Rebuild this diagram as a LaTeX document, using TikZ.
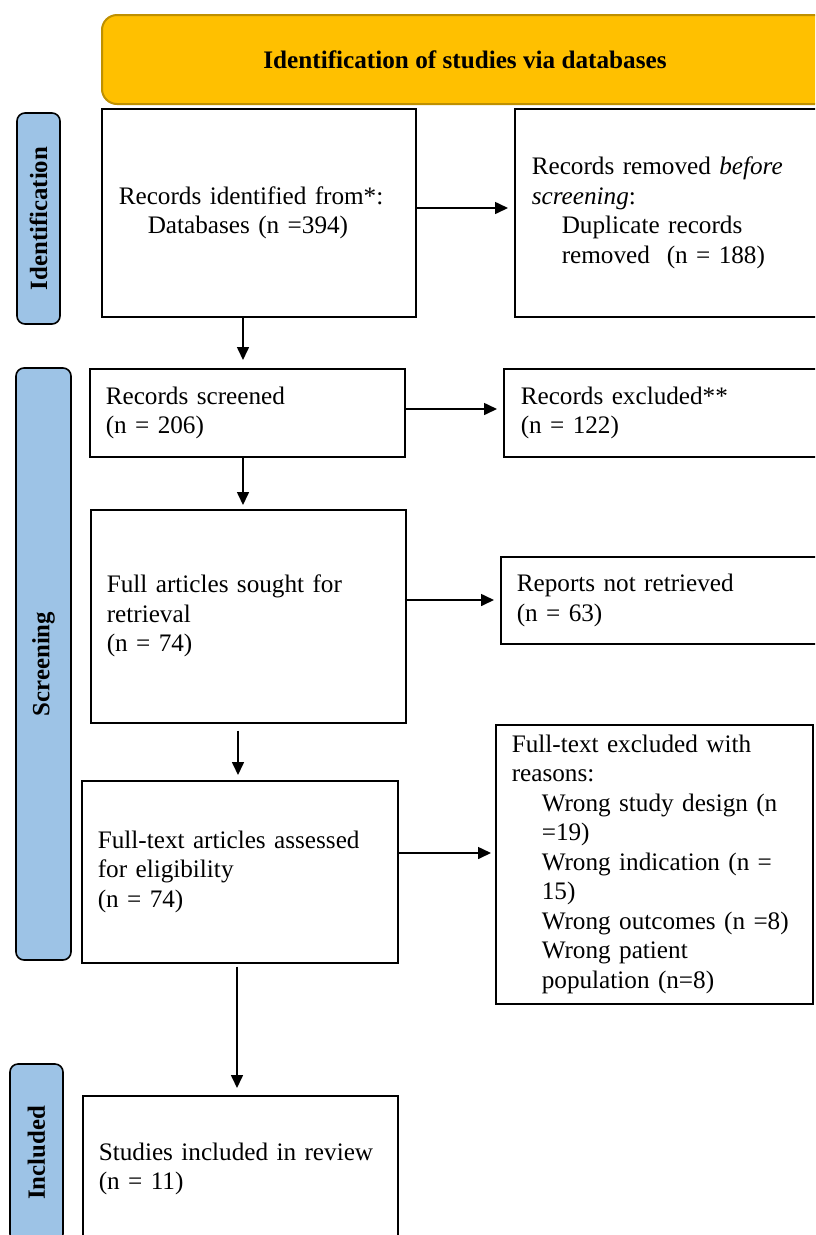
\documentclass[tikz,border=0pt]{standalone}
\usepackage{fontspec}
\setmainfont{Liberation Serif}
\usetikzlibrary{arrows.meta,calc}
\definecolor{banner}{HTML}{FFC000}
\definecolor{bannerline}{HTML}{BF9000}
\definecolor{side}{HTML}{9DC3E6}
\begin{document}
\begin{tikzpicture}[x=1pt,y=-1pt,
  every node/.style={font=\fontsize{25.2}{29.5}\selectfont},
  box/.style={draw=black,line width=1.6pt,fill=white,rectangle,anchor=north west,align=left,inner ysep=0pt},
  sidelabel/.style={draw=black,line width=1.6pt,fill=side,rounded corners=8pt,rotate=90,
    font=\fontsize{24.8}{26}\selectfont\bfseries,inner sep=0pt},
  arr/.style={line width=1.6pt,-{Triangle[length=13pt,width=12pt]}}
]
\clip (0,0) rectangle (815,1235);
\fill[white] (0,0) rectangle (815,1235);
% banner
\node[draw=bannerline,line width=2pt,fill=banner,rounded corners=15pt,anchor=north west,
  minimum width=760pt,minimum height=89pt,inner sep=0pt] (ban) at (101,14) {};
\node[font=\fontsize{25.2}{26}\selectfont\bfseries] (bantext) at (465,60) {Identification of studies via databases};
% side labels
\node[sidelabel,minimum width=211pt,minimum height=43pt] (lid) at (38.5,218.5) {Identification};
\node[sidelabel,minimum width=592pt,minimum height=55pt] (lsc) at (43.5,664) {Screening};
\node[sidelabel,minimum width=178pt,minimum height=53pt] (lin) at (36.5,1153) {Included};
% boxes
\node[box,minimum width=314pt,minimum height=208pt,text width=280pt,inner xsep=17pt] (b1) at (101,108)
  {Records identified from*:\\\hspace*{29pt}Databases (n =394)};
\node[box,minimum width=320pt,minimum height=208pt,text width=286pt,inner xsep=17pt] (b2) at (514,108)
  {Records removed \textit{before}\\\textit{screening}:\\\hspace*{30pt}Duplicate records\\\hspace*{30pt}removed\ \ (n = 188)};
\node[box,minimum width=315pt,minimum height=88pt,text width=283pt,inner xsep=16pt] (b3) at (89,368)
  {Records screened\\(n = 206)};
\node[box,minimum width=330pt,minimum height=88pt,text width=296pt,inner xsep=17pt] (b4) at (503,368)
  {Records excluded**\\(n = 122)};
\node[box,minimum width=315pt,minimum height=213pt,text width=283pt,inner xsep=16pt] (b5) at (90,509)
  {Full articles sought for\\retrieval\\(n = 74)};
\node[box,minimum width=330pt,minimum height=87pt,text width=298pt,inner xsep=16pt] (b6) at (500,556)
  {Reports not retrieved\\(n = 63)};
\node[box,minimum width=316pt,minimum height=182pt,text width=284pt,inner xsep=16pt] (b7) at (81,780)
  {Full-text articles assessed\\for eligibility\\(n = 74)};
\node[box,minimum width=317pt,minimum height=279pt,text width=285pt,inner xsep=16pt] (b8) at (495,724)
  {Full-text excluded with\\reasons:\\\hspace*{30pt}Wrong study design (n\\\hspace*{30pt}=19)\\\hspace*{30pt}Wrong indication (n =\\\hspace*{30pt}15)\\\hspace*{30pt}Wrong outcomes (n =8)\\\hspace*{30pt}Wrong patient\\\hspace*{30pt}population (n=8)};
\node[box,minimum width=315pt,minimum height=146pt,text width=283pt,inner xsep=16pt] (b9) at (82,1095)
  {Studies included in review\\(n = 11)};
% connector coordinates
\coordinate (h1) at (0,208);
\coordinate (h2) at (0,409);
\coordinate (h3) at (0,600);
\coordinate (h4) at (0,853);
\coordinate (v1) at (243,0);
\coordinate (v2) at (243,0);
\coordinate (v3) at (238,0);
\coordinate (v4) at (237,0);
% connectors
\draw[arr,shorten >=6pt] (b1.east |- h1) -- (b2.west |- h1);
\draw[arr,shorten >=6pt] (b3.east |- h2) -- (b4.west |- h2);
\draw[arr,shorten <=-2pt,shorten >=6pt] (b5.east |- h3) -- (b6.west |- h3);
\draw[arr,shorten >=4pt] (b7.east |- h4) -- (b8.west |- h4);
\draw[arr,shorten >=8pt] (b1.south -| v1) -- (b3.north -| v1);
\draw[arr,shorten >=4pt] (b3.south -| v2) -- (b5.north -| v2);
\draw[arr,shorten <=7pt,shorten >=5pt] (b5.south -| v3) -- (b7.north -| v3);
\draw[arr,shorten <=3pt,shorten >=7pt] (b7.south -| v4) -- (b9.north -| v4);
\end{tikzpicture}
\end{document}
